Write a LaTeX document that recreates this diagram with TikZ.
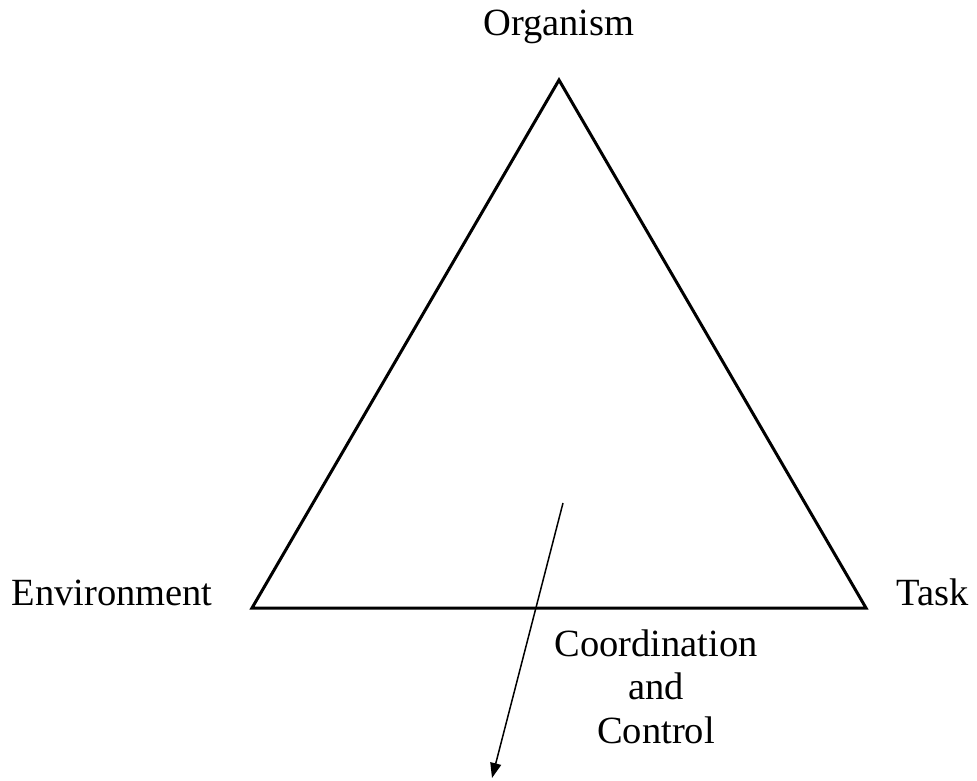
\documentclass[tikz,border=0pt]{standalone}
\usepackage{fontspec}
\setmainfont{Liberation Serif}
\usetikzlibrary{arrows.meta}
\begin{document}
\begin{tikzpicture}[x=1pt,y=1pt,
  lbl/.style={font=\fontsize{38.5}{43.5}\selectfont, inner sep=0pt, anchor=base},
  edge/.style={line width=3pt, line join=miter},
  link/.style={line width=1.5pt, -{Triangle[length=15pt,width=11pt]}}]
\useasboundingbox (0,0) rectangle (977,780);
\coordinate (top) at (559,700);
\coordinate (left) at (252,172);
\coordinate (right) at (866,172);
\draw[edge] (top) -- (left) -- (right) -- cycle;
\node[lbl] (org) at (559,744) {Organism};
\node[lbl] (env) at (112,175) {Environment};
\node[lbl] (task) at (933,175) {Task};
\node[lbl, align=center] (coord) at (656,37) {Coordination\\and\\Control};
\coordinate (from) at (563,277);
\coordinate (to) at (492,2);
\draw[link] (from) -- (to);
\end{tikzpicture}
\end{document}
